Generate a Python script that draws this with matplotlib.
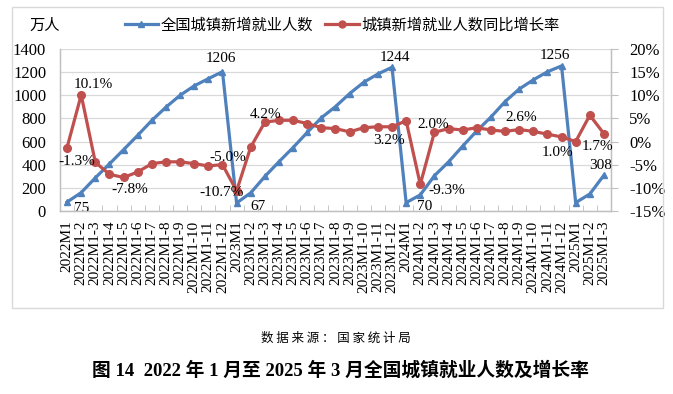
import matplotlib
matplotlib.use("Agg")
from matplotlib import pyplot as plt
from matplotlib.lines import Line2D
from matplotlib.patches import Rectangle
from matplotlib.ticker import FixedLocator, FuncFormatter

# month labels on the x axis
YEARS = [2022, 2023, 2024, 2025]
MONTHS = [12, 12, 12, 3]
LABELS = [f"{y}M1" if m == 1 else f"{y}M1-{m}"
          for y, n in zip(YEARS, MONTHS) for m in range(1, n + 1)]

# cumulative new urban jobs (10k people)
JOBS = [75, 157, 285, 406, 529, 654, 783, 898, 1001, 1083, 1145, 1206,
        67, 155, 297, 425, 548, 679, 806, 903, 1016, 1114, 1186, 1244,
        70, 137, 303, 423, 560, 692, 812, 946, 1055, 1135, 1205, 1256,
        70, 145, 308]

# year-on-year growth (%)
GROWTH = [-1.3, 10.1, -4.5, -7.1, -7.8, -6.6, -4.8, -4.4, -4.4, -4.8, -5.3, -5.0,
          -10.7, -1.2, 4.2, 4.6, 4.6, 3.9, 3.0, 2.8, 2.1, 3.0, 3.2, 3.2,
          4.5, -9.3, 2.0, 2.8, 2.5, 3.0, 2.5, 2.2, 2.6, 2.2, 1.6, 1.0,
          0.0, 5.7, 1.7]

# which points get a data label, with offset in pixels
JOB_LABELS = {0: (15, -6), 11: (-2, 13), 12: (21, -4), 23: (3, 10),
              24: (18, -4), 35: (-7, 10), 38: (-3, 10)}
GROWTH_LABELS = {0: (10, -14), 1: (12, 10), 4: (6, -12), 11: (5, 7),
                 12: (-15, -2), 14: (1, 8), 23: (-3, -14), 25: (26, -6),
                 26: (-1, 8), 32: (2, 12), 35: (-4, -16), 38: (-6, -13)}

BLUE = "#4F81BD"
RED = "#C0504D"
SERIF = ["Liberation Serif", "Noto Sans CJK SC"]
CJK = ["Noto Sans CJK SC", "DejaVu Sans"]

W, H = 673, 394
fig = plt.figure(figsize=(W / 100, H / 100), dpi=100)

# outer frame of the chart
fig.patches.append(Rectangle((12 / W, 1 - 308 / H), 651 / W, 301 / H,
                             transform=fig.transFigure, fill=False,
                             edgecolor="#d9d9d9", linewidth=1))

left, right, top, bottom = 60, 611, 49.3, 210.7
ax = fig.add_axes([left / W, 1 - bottom / H, (right - left) / W, (bottom - top) / H])
ax2 = ax.twinx()

x = list(range(len(LABELS)))
ax.plot(x, JOBS, color=BLUE, lw=2.3, marker="^", ms=4.5, zorder=3)
ax2.plot(x, GROWTH, color=RED, lw=2.3, marker="o", ms=5.5, zorder=3)

ax.set_xlim(-0.5, len(LABELS) - 0.5)
ax.set_ylim(0, 1400)
ax.set_yticks(range(0, 1401, 200))
ax2.set_ylim(-15, 20)
ax2.set_yticks(range(-15, 21, 5))
ax2.yaxis.set_major_formatter(FuncFormatter(lambda v, p: f"{v:.0f}%"))

ax.grid(axis="y", color="#d9d9d9", lw=0.9)
ax.set_axisbelow(True)

ax.set_xticks(x)
ax.set_xticklabels(LABELS, rotation=90, va="top", ha="center",
                   family=SERIF, fontsize=11)
ax.tick_params(axis="x", length=0, pad=7)
ax.xaxis.set_minor_locator(FixedLocator([i - 0.5 for i in range(len(LABELS) + 1)]))
ax.tick_params(axis="x", which="minor", direction="in", length=4, color="#bfbfbf")
ax.tick_params(axis="y", length=0, pad=10, labelsize=12)
ax2.tick_params(axis="y", length=5, color="#bfbfbf", pad=8, labelsize=12)
for t in ax.get_yticklabels() + ax2.get_yticklabels():
    t.set_family(SERIF)

for a in (ax, ax2):
    a.spines["top"].set_visible(False)
    for s in ("left", "right", "bottom"):
        a.spines[s].set_color("#bfbfbf")
        a.spines[s].set_linewidth(0.9)

for i, (dx, dy) in JOB_LABELS.items():
    ax.annotate(f"{JOBS[i]}", (i, JOBS[i]), xytext=(dx, dy),
                textcoords="offset pixels", ha="center", va="center",
                family=SERIF, fontsize=11)
for i, (dx, dy) in GROWTH_LABELS.items():
    ax2.annotate(f"{GROWTH[i]:.1f}%", (i, GROWTH[i]), xytext=(dx, dy),
                 textcoords="offset pixels", ha="center", va="center",
                 family=SERIF, fontsize=11, zorder=5)

fig.text(45 / W, 1 - 25 / H, "万人", ha="center", va="center",
         family=CJK, fontsize=11)

handles = [Line2D([], [], color=BLUE, lw=2.3, marker="^", ms=4),
           Line2D([], [], color=RED, lw=2.3, marker="o", ms=5)]
fig.legend(handles, ["全国城镇新增就业人数", "城镇新增就业人数同比增长率"],
           loc="center", bbox_to_anchor=(342 / W, 1 - 25 / H), ncol=2,
           frameon=False, prop={"family": CJK, "size": 11},
           handlelength=2.2, handletextpad=0.15, columnspacing=0.8)

fig.text(336 / W, 1 - 338 / H, "数 据 来 源 ： 国 家 统 计 局", ha="center",
         va="center", family=CJK, fontsize=9)
fig.text(340 / W, 1 - 370 / H,
         "图 14  2022 年 1 月至 2025 年 3 月全国城镇就业人数及增长率",
         ha="center", va="center", family=SERIF, fontsize=13.5, weight="bold")

fig.savefig("out.png", dpi=100)
